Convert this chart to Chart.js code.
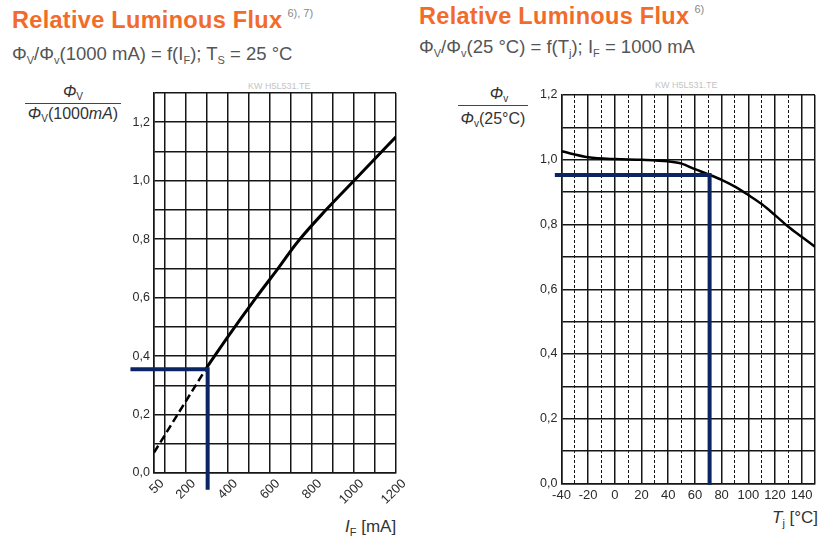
<!DOCTYPE html>
<html>
<head>
<meta charset="utf-8">
<script src="https://cdn.jsdelivr.net/npm/chart.js@4.4.0/dist/chart.umd.min.js"></script>
<style>
  html, body { margin:0; padding:0; }
  body { width:819px; height:536px; background:#fff; position:relative; overflow:hidden;
         font-family:"Liberation Sans", Arial, Helvetica, sans-serif; }
  .abs { position:absolute; white-space:nowrap; line-height:1; }
  .title { color:#f26b2a; font-weight:bold; font-size:23.5px; letter-spacing:0.3px; }
  .title sup { font-size:11px; color:#888; font-weight:normal; vertical-align:top; position:relative; top:-1px; margin-left:5px; letter-spacing:0; }
  .sub { color:#555; font-size:18.5px; }
  .sub sub { font-size:11px; vertical-align:baseline; position:relative; top:4px; }
  .frac { color:#333; font-size:16px; text-align:center; }
  .frac .bar { border-top:1.5px solid #444; }
  .frac sub { font-size:10px; vertical-align:baseline; position:relative; top:3px; }
  .xt { color:#333; font-size:17px; }
  .xt sub { font-size:11px; vertical-align:baseline; position:relative; top:4px; }
  .wm { color:#c4c4c4; font-size:9px; }
  canvas { position:absolute; top:0; }
</style>
</head>
<body>
<div class="abs title" style="left:12px;top:8.5px;">Relative Luminous Flux<sup>6), 7)</sup></div>
<div class="abs sub" style="left:12px;top:45px;">Φ<sub>V</sub>/Φ<sub>v</sub>(1000 mA) = f(I<sub>F</sub>); T<sub>S</sub> = 25 °C</div>

<div class="abs title" style="left:419px;top:5px;">Relative Luminous Flux<sup>6)</sup></div>
<div class="abs sub" style="left:419px;top:37.5px;">Φ<sub>V</sub>/Φ<sub>v</sub>(25 °C) = f(T<sub>j</sub>); I<sub>F</sub> = 1000 mA</div>

<div class="abs frac" style="left:25px;top:84px;width:96px;">
  <div style="height:19px;"><i>Φ</i><sub>V</sub></div>
  <div class="bar"></div>
  <div style="padding-top:2px;"><i>Φ</i><sub>V</sub>(1000<i>mA</i>)</div>
</div>
<div class="abs frac" style="left:458px;top:86px;width:70px;">
  <div style="height:19px;padding-left:12px;"><i>Φ</i><sub>v</sub></div>
  <div class="bar"></div>
  <div style="padding-top:5px;"><i>Φ</i><sub>v</sub>(25°C)</div>
</div>

<div class="abs wm" style="left:248px;top:82px;">KW H5L531.TE</div>
<div class="abs wm" style="left:655px;top:81px;">KW H5L531.TE</div>

<div class="abs xt" style="left:345px;top:518px;"><i>I</i><sub>F</sub> [mA]</div>
<div class="abs xt" style="left:772px;top:509px;"><i>T</i><sub>j</sub> [°C]</div>

<canvas id="c1" width="410" height="536" style="left:0;width:410px;height:536px;"></canvas>
<canvas id="c2" width="409" height="536" style="left:410px;width:409px;height:536px;"></canvas>

<script>
// ---- Data: left chart (relative flux vs forward current) ----
const currentTicksMA = [50, 100, 200, 300, 400, 500, 600, 700, 800, 900, 1000, 1100, 1200];
const currentLabelsMA = [50, 200, 400, 600, 800, 1000, 1200];
const ifDashedMA = [50, 300];
const fluxDashed = [0.07, 0.36];
const ifSolidMA = [300, 400, 535, 640, 740, 870, 1000, 1100, 1200];
const fluxSolid = [0.36, 0.465, 0.60, 0.70, 0.797, 0.902, 1.00, 1.075, 1.15];
const markerIfMA = [-62, 305, 305];
const markerIfFlux = [0.355, 0.355, -0.057];

// ---- Data: right chart (relative flux vs junction temperature) ----
const tempTicksC = [-40,-30,-20,-10,0,10,20,30,40,50,60,70,80,90,100,110,120,130,140,150];
const tempLabelsC = [-40,-20,0,20,40,60,80,100,120,140];
const tempC = [-40, -20, 0, 20, 40, 50, 60, 70, 80, 90, 100, 110, 120, 130, 140, 150];
const fluxT = [1.026, 1.008, 1.002, 1.0, 0.995, 0.988, 0.971, 0.955, 0.938, 0.917, 0.891, 0.863, 0.829, 0.793, 0.762, 0.731];
const markerTC = [-45, 71, 71];
const markerTFlux = [0.953, 0.953, -0.005];

const yTicksLeft = [0,0.1,0.2,0.3,0.4,0.5,0.6,0.7,0.8,0.9,1.0,1.1,1.2,1.3];
const yTicksRight = [0,0.1,0.2,0.3,0.4,0.5,0.6,0.7,0.8,0.9,1.0,1.1,1.2];
const yLabelValues = [0,0.2,0.4,0.6,0.8,1.0,1.2];

const pts = (xs, ys) => xs.map((x, i) => ({x, y: ys[i]}));
const fmt = v => v.toFixed(1).replace('.', ',');
const isLabel = (arr, v) => arr.some(a => Math.abs(a - v) < 1e-6);

Chart.defaults.font.family = '"Liberation Sans", Arial, Helvetica, sans-serif';
Chart.defaults.font.size = 12.5;
Chart.defaults.color = '#2a2a2a';

const NAVY = '#0b2463';
const GRID = '#161616';

function yAxis(ticks, max, width) {
  return {
    type: 'linear', min: 0, max: max,
    afterBuildTicks: s => { s.ticks = ticks.map(v => ({value: v})); },
    afterFit: s => { s.width = width; },
    ticks: { padding: 4, callback: v => isLabel(yLabelValues, v) ? fmt(v) : '' },
    grid: { color: GRID, lineWidth: 1.5, drawTicks: false },
    border: { display: true, color: GRID, width: 1.5 }
  };
}

new Chart(document.getElementById('c1'), {
  type: 'line',
  data: {
    datasets: [
      { data: pts(markerIfMA, markerIfFlux), borderColor: NAVY, borderWidth: 4, pointRadius: 0, clip: false, order: 0, tension: 0 },
      { data: pts(ifSolidMA, fluxSolid), borderColor: '#000', borderWidth: 3, pointRadius: 0, tension: 0.4, order: 1 },
      { data: pts(ifDashedMA, fluxDashed), borderColor: '#000', borderWidth: 2.5, borderDash: [8, 4], pointRadius: 0, order: 1 }
    ]
  },
  options: {
    responsive: false, animation: false, events: [],
    layout: { padding: { left: 0, top: 93, right: 13, bottom: 0 } },
    plugins: { legend: { display: false }, tooltip: { enabled: false } },
    scales: {
      x: {
        type: 'linear', min: 50, max: 1200,
        afterBuildTicks: s => { s.ticks = currentTicksMA.map(v => ({value: v})); },
        afterFit: s => { s.height = 63; },
        ticks: { minRotation: 45, maxRotation: 45, autoSkip: false, padding: 3, labelOffset: 8,
                 font: { size: 13 },
                 callback: v => isLabel(currentLabelsMA, v) ? String(v) : '' },
        grid: { color: GRID, lineWidth: 1.5, drawTicks: false },
        border: { display: true, color: GRID, width: 1.5 }
      },
      y: yAxis(yTicksLeft, 1.3, 154)
    }
  }
});

const isOddTen = v => Math.round(v / 10) % 2 !== 0 && v < 145;

new Chart(document.getElementById('c2'), {
  type: 'line',
  data: {
    datasets: [
      { data: pts(markerTC, markerTFlux), borderColor: NAVY, borderWidth: 4, pointRadius: 0, clip: false, order: 0, tension: 0 },
      { data: pts(tempC, fluxT), borderColor: '#000', borderWidth: 2.5, pointRadius: 0, cubicInterpolationMode: 'monotone', order: 1 }
    ]
  },
  options: {
    responsive: false, animation: false, events: [],
    layout: { padding: { left: 0, top: 95, right: 2, bottom: 0 } },
    plugins: { legend: { display: false }, tooltip: { enabled: false } },
    scales: {
      x: {
        type: 'linear', min: -40, max: 150,
        afterBuildTicks: s => { s.ticks = tempTicksC.map(v => ({value: v})); },
        afterFit: s => { s.height = 52.5; },
        ticks: { maxRotation: 0, minRotation: 0, autoSkip: false, padding: 4,
                 font: { size: 13 },
                 callback: v => isLabel(tempLabelsC, v) ? String(v) : '' },
        grid: { color: GRID, drawTicks: false,
                lineWidth: c => (c.tick && isOddTen(c.tick.value)) ? 1 : 1.5 },
        border: { display: true, color: GRID, width: 1.5,
                  dash: c => (c.tick && isOddTen(c.tick.value)) ? [3, 2] : [] }
      },
      y: yAxis(yTicksRight, 1.2, 151.5)
    }
  }
});
</script>
</body>
</html>
